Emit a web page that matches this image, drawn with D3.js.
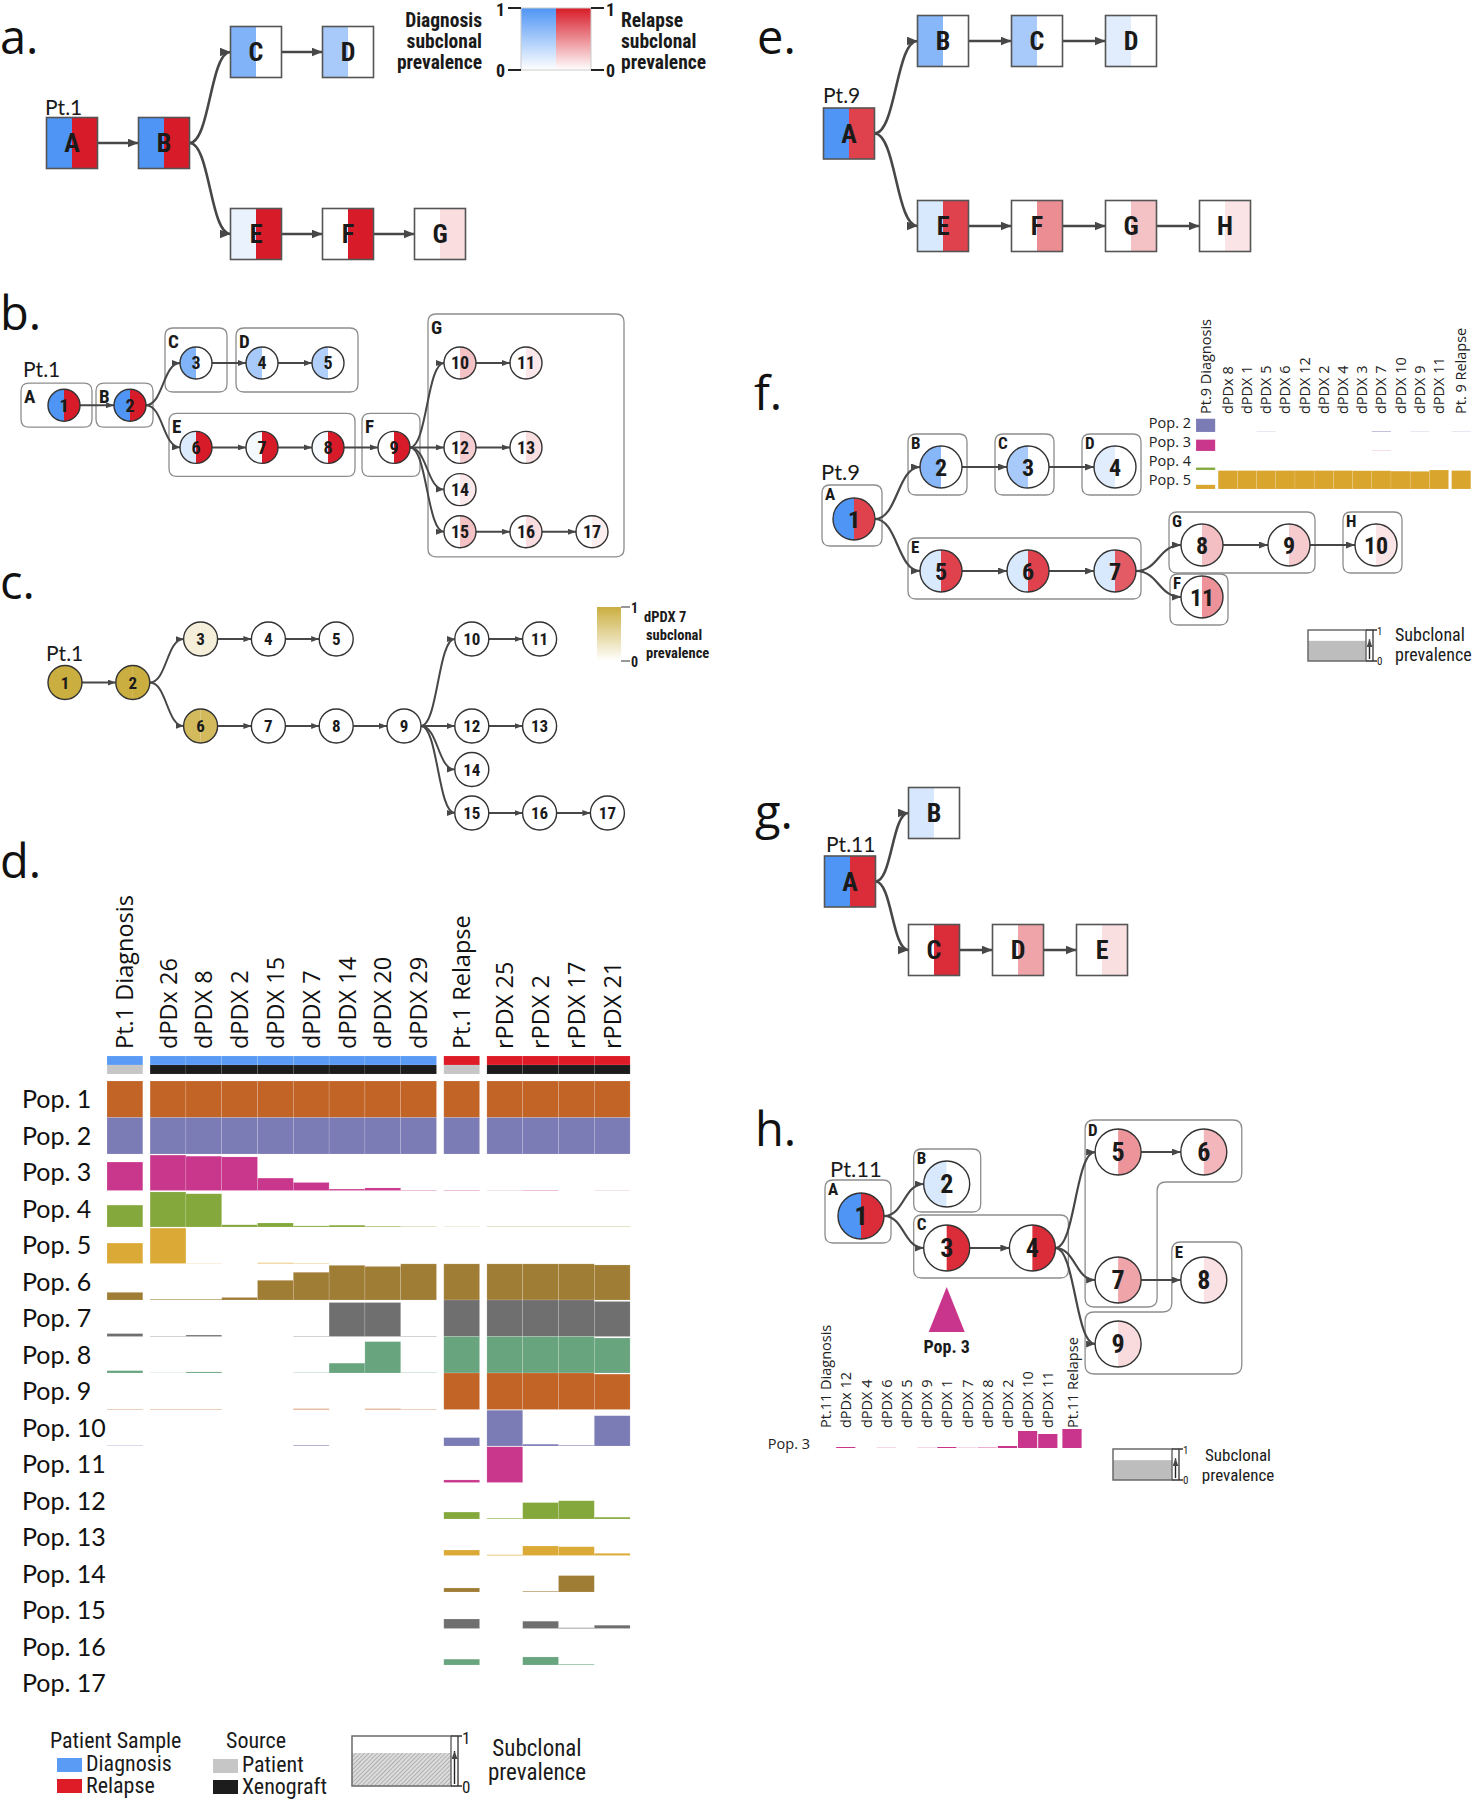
<!DOCTYPE html>
<html><head><meta charset="utf-8">
<script src="https://cdn.jsdelivr.net/npm/d3@7"></script>
<style>
body{margin:0;background:#fff;}
svg{display:block;}
</style></head><body>
<script>
// ---------------- DATA ----------------
// Panel a : Pt.1 clone tree (dx = diagnosis prevalence, rl = relapse prevalence)
const aNodes = [
  {id:"A",col:0,row:1,dx:1,rl:1},{id:"B",col:1,row:1,dx:1,rl:1},
  {id:"C",col:2,row:0,dx:0.72,rl:0},{id:"D",col:3,row:0,dx:0.5,rl:0},
  {id:"E",col:2,row:2,dx:0.12,rl:1},{id:"F",col:3,row:2,dx:0,rl:1},{id:"G",col:4,row:2,dx:0,rl:0.15}];
const aEdges = [["A","B"],["B","C"],["C","D"],["B","E"],["E","F"],["F","G"]];

// Panel b : Pt.1 population tree
const bNodes = [
  {id:"1",col:0,row:1,dx:1,rl:1},{id:"2",col:1,row:1,dx:1,rl:1},
  {id:"3",col:2,row:0,dx:0.72,rl:0},{id:"4",col:3,row:0,dx:0.5,rl:0},{id:"5",col:4,row:0,dx:0.45,rl:0},
  {id:"6",col:2,row:2,dx:0.2,rl:1},{id:"7",col:3,row:2,dx:0.06,rl:1},{id:"8",col:4,row:2,dx:0.05,rl:1},
  {id:"9",col:5,row:2,dx:0,rl:1},
  {id:"10",col:6,row:0,dx:0,rl:0.27},{id:"11",col:7,row:0,dx:0,rl:0.1},
  {id:"12",col:6,row:2,dx:0,rl:0.22},{id:"13",col:7,row:2,dx:0,rl:0.14},
  {id:"14",col:6,row:3,dx:0,rl:0.1},
  {id:"15",col:6,row:4,dx:0,rl:0.27},{id:"16",col:7,row:4,dx:0,rl:0.15},{id:"17",col:8,row:4,dx:0,rl:0.08}];
const bEdges = [["1","2"],["2","3"],["3","4"],["4","5"],["2","6"],["6","7"],["7","8"],["8","9"],
  ["9","10"],["10","11"],["9","12"],["12","13"],["9","14"],["9","15"],["15","16"],["16","17"]];
const bGroups = [
  {label:"A",members:["1"]},{label:"B",members:["2"]},{label:"C",members:["3"]},
  {label:"D",members:["4","5"]},{label:"E",members:["6","7","8"]},{label:"F",members:["9"]},
  {label:"G",members:["10","11","12","13","14","15","16","17"]}];

// Panel c : dPDX 7 prevalence on the Pt.1 tree
const cPrev = {"1":1,"2":1,"3":0.2,"4":0,"5":0,"6":0.85,"7":0,"8":0,"9":0,"10":0,"11":0,"12":0,"13":0,"14":0,"15":0,"16":0,"17":0};

// Panel d : Pt.1 subclonal prevalence per sample
const dColumns = ["Pt.1 Diagnosis","dPDx 26","dPDX 8","dPDX 2","dPDX 15","dPDX 7","dPDX 14","dPDX 20","dPDX 29",
  "Pt.1 Relapse","rPDX 25","rPDX 2","rPDX 17","rPDX 21"];
const dSample = ["Diagnosis","Diagnosis","Diagnosis","Diagnosis","Diagnosis","Diagnosis","Diagnosis","Diagnosis","Diagnosis",
  "Relapse","Relapse","Relapse","Relapse","Relapse"];
const dSource = ["Patient","Xenograft","Xenograft","Xenograft","Xenograft","Xenograft","Xenograft","Xenograft","Xenograft",
  "Patient","Xenograft","Xenograft","Xenograft","Xenograft"];
const dGroup = [0,1,1,1,1,1,1,1,1,2,3,3,3,3];
const dPops = ["Pop. 1","Pop. 2","Pop. 3","Pop. 4","Pop. 5","Pop. 6","Pop. 7","Pop. 8","Pop. 9",
  "Pop. 10","Pop. 11","Pop. 12","Pop. 13","Pop. 14","Pop. 15","Pop. 16","Pop. 17"];
const dValues = [
  [1,1,1,1,1,1,1,1,1,1,1,1,1,1],
  [1,1,1,1,1,1,1,1,1,1,1,1,1,1],
  [0.78,0.97,0.94,0.92,0.34,0.22,0.04,0.07,0.01,0.01,0.005,0.01,0,0.005],
  [0.6,0.96,0.91,0.06,0.11,0.03,0.05,0.02,0.01,0.005,0.01,0.01,0.01,0.01],
  [0.56,0.97,0.005,0,0.02,0.01,0,0,0,0,0,0,0,0],
  [0.21,0.02,0.02,0.07,0.54,0.76,0.95,0.92,0.99,0.99,0.99,0.99,0.99,0.96],
  [0.08,0.01,0.04,0,0,0.01,0.93,0.93,0.01,1,1,1,1,0.96],
  [0.065,0.005,0.03,0,0,0.01,0.27,0.86,0.01,1,1,1,1,0.96],
  [0.01,0.01,0.01,0,0,0.02,0,0.02,0.01,1,1,1,1,0.97],
  [0.01,0,0,0,0,0.02,0,0,0,0.23,0.98,0.05,0.02,0.83],
  [0,0,0,0,0,0,0,0,0,0.07,0.98,0,0,0],
  [0,0,0,0,0,0,0,0,0,0.19,0.02,0.45,0.5,0.05],
  [0,0,0,0,0,0,0,0,0,0.15,0.02,0.26,0.24,0.06],
  [0,0,0,0,0,0,0,0,0,0.11,0,0.02,0.45,0],
  [0,0,0,0,0,0,0,0,0,0.26,0,0.2,0.02,0.09],
  [0,0,0,0,0,0,0,0,0,0.16,0,0.22,0.02,0],
  [0,0,0,0,0,0,0,0,0,0,0,0,0,0]];
const popColors = ["#c26426","#7b7bb5","#c9378d","#84a83b","#dba935","#a07d35","#6f6f6f","#68a57f"];

// Panel e : Pt.9 clone tree
const eNodes = [
  {id:"A",col:0,row:1,dx:1,rl:0.83},
  {id:"B",col:1,row:0,dx:0.68,rl:0},{id:"C",col:2,row:0,dx:0.5,rl:0},{id:"D",col:3,row:0,dx:0.17,rl:0},
  {id:"E",col:1,row:2,dx:0.22,rl:0.83},{id:"F",col:2,row:2,dx:0,rl:0.5},{id:"G",col:3,row:2,dx:0,rl:0.27},{id:"H",col:4,row:2,dx:0,rl:0.12}];
const eEdges = [["A","B"],["B","C"],["C","D"],["A","E"],["E","F"],["F","G"],["G","H"]];

// Panel f : Pt.9 population tree + inset
const fNodes = [
  {id:"1",col:0,row:2,dx:1,rl:0.83},
  {id:"2",col:1,row:0,dx:0.68,rl:0},{id:"3",col:2,row:0,dx:0.5,rl:0},{id:"4",col:3,row:0,dx:0.17,rl:0},
  {id:"5",col:1,row:4,dx:0.22,rl:0.83},{id:"6",col:2,row:4,dx:0.22,rl:0.83},{id:"7",col:3,row:4,dx:0.22,rl:0.72},
  {id:"8",col:4,row:3,dx:0,rl:0.28},{id:"9",col:5,row:3,dx:0,rl:0.23},{id:"10",col:6,row:3,dx:0,rl:0.12},
  {id:"11",col:4,row:5,dx:0,rl:0.48}];
const fEdges = [["1","2"],["2","3"],["3","4"],["1","5"],["5","6"],["6","7"],["7","8"],["8","9"],["9","10"],["7","11"]];
const fGroups = [
  {label:"A",members:["1"]},{label:"B",members:["2"]},{label:"C",members:["3"]},{label:"D",members:["4"]},
  {label:"E",members:["5","6","7"]},{label:"G",members:["8","9"]},{label:"H",members:["10"]},{label:"F",members:["11"]}];
const fColumns = ["Pt.9 Diagnosis","dPDx 8","dPDX 1","dPDX 5","dPDX 6","dPDX 12","dPDX 2","dPDX 4","dPDX 3",
  "dPDX 7","dPDX 10","dPDX 9","dPDX 11","Pt. 9 Relapse"];
const fGroup = [0,1,1,1,1,1,1,1,1,1,1,1,1,2];
const fPops = ["Pop. 2","Pop. 3","Pop. 4","Pop. 5"];
const fValues = [
  [0.7,0,0,0.01,0,0,0,0,0,0.03,0,0.01,0,0.01],
  [0.6,0,0,0,0,0,0,0,0,0.01,0,0,0,0],
  [0.13,0,0,0,0,0,0,0,0,0,0,0,0,0],
  [0.22,0.97,0.97,0.97,0.97,0.97,0.97,0.97,0.96,0.96,0.94,0.93,1.0,0.97]];
const fColors = ["#7b7bb5","#c9378d","#84a83b","#d9a52c"];

// Panel g : Pt.11 clone tree
const gNodes = [
  {id:"A",col:0,row:1,dx:1,rl:0.92},{id:"B",col:1,row:0,dx:0.23,rl:0},
  {id:"C",col:1,row:2,dx:0,rl:0.92},{id:"D",col:2,row:2,dx:0,rl:0.4},{id:"E",col:3,row:2,dx:0,rl:0.14}];
const gEdges = [["A","B"],["A","C"],["C","D"],["D","E"]];

// Panel h : Pt.11 population tree + inset
const hNodes = [
  {id:"1",col:0,row:2,dx:1,rl:0.92},{id:"2",col:1,row:1,dx:0.22,rl:0},
  {id:"3",col:1,row:3,dx:0,rl:0.92},{id:"4",col:2,row:3,dx:0,rl:0.92},
  {id:"5",col:3,row:0,dx:0,rl:0.47},{id:"6",col:4,row:0,dx:0,rl:0.32},
  {id:"7",col:3,row:4,dx:0,rl:0.4},{id:"8",col:4,row:4,dx:0,rl:0.13},{id:"9",col:3,row:6,dx:0,rl:0.16}];
const hEdges = [["1","2"],["1","3"],["3","4"],["4","5"],["5","6"],["4","7"],["7","8"],["4","9"]];
const hGroups = [{label:"A",members:["1"]},{label:"B",members:["2"]},{label:"C",members:["3","4"]}];
const hColumns = ["Pt.11 Diagnosis","dPDx 12","dPDX 4","dPDX 6","dPDX 5","dPDX 9","dPDX 1","dPDX 7","dPDX 8",
  "dPDX 2","dPDX 10","dPDX 11","Pt.11 Relapse"];
const hGroup = [0,1,1,1,1,1,1,1,1,1,1,1,2];
const hPop3 = [0,0.05,0,0.01,0,0.01,0.05,0.01,0.02,0.1,0.85,0.7,0.95];

// ---------------- DRAWING ----------------
const W=1473,H=1800;
const BLUE="#4f95f5", RED="#d81b28", GOLD="#cbae40";
const blueS=d3.scaleLinear().domain([0,1]).range(["#ffffff",BLUE]);
const redS=d3.scaleLinear().domain([0,1]).range(["#ffffff",RED]);
const goldS=d3.scaleLinear().domain([0,1]).range(["#ffffff",GOLD]);
const NARROW="'Liberation Sans Narrow','Arial Narrow','Roboto Condensed','DejaVu Sans Condensed',sans-serif";
const LINE="#474747";

const svg=d3.select("body").append("svg").attr("width",W).attr("height",H)
  .attr("font-family","'Open Sans',sans-serif");
const defs=svg.append("defs");

function marker(id,len,wid){
  defs.append("marker").attr("id",id).attr("viewBox",`0 ${-wid/2} ${len} ${wid}`)
    .attr("refX",len).attr("refY",0).attr("markerWidth",len).attr("markerHeight",wid)
    .attr("markerUnits","userSpaceOnUse").attr("orient","auto")
    .append("path").attr("d",`M0,${-wid/2}L${len},0L0,${wid/2}Z`).attr("fill",LINE);
}
marker("arrL",11,9); marker("arrM",9,7); marker("arrS",8,6);

function grad(id,top){
  const g=defs.append("linearGradient").attr("id",id).attr("x1",0).attr("y1",0).attr("x2",0).attr("y2",1);
  g.append("stop").attr("offset","0%").attr("stop-color",top);
  g.append("stop").attr("offset","100%").attr("stop-color","#ffffff");
}
grad("gBlue",BLUE); grad("gRed",RED); grad("gGold",GOLD);

const pat=defs.append("pattern").attr("id","hatch").attr("patternUnits","userSpaceOnUse")
  .attr("width",3).attr("height",3).attr("patternTransform","rotate(45)");
pat.append("rect").attr("width",3).attr("height",3).attr("fill","#dcdcdc");
pat.append("line").attr("x1",0).attr("y1",0).attr("x2",0).attr("y2",3).attr("stroke","#8c8c8c").attr("stroke-width",1.1);

function roundedPoly(pts,r){
  let d="";const n=pts.length;
  for(let i=0;i<n;i++){
    const p0=pts[(i-1+n)%n],p1=pts[i],p2=pts[(i+1)%n];
    const v1=[p0[0]-p1[0],p0[1]-p1[1]],v2=[p2[0]-p1[0],p2[1]-p1[1]];
    const l1=Math.hypot(v1[0],v1[1]),l2=Math.hypot(v2[0],v2[1]);
    const rr=Math.min(r,l1/2,l2/2);
    const a=[p1[0]+v1[0]/l1*rr,p1[1]+v1[1]/l1*rr],b=[p1[0]+v2[0]/l2*rr,p1[1]+v2[1]/l2*rr];
    d+=(i===0?"M":"L")+a[0]+","+a[1]+"Q"+p1[0]+","+p1[1]+" "+b[0]+","+b[1];
  }
  return d+"Z";
}

function text(g,x,y,str,opt={}){
  const t=g.append("text").attr("x",x).attr("y",y).text(str)
    .attr("font-size",opt.fs||16).attr("fill",opt.fill||"#1a1a1a");
  if(opt.ff) t.attr("font-family",opt.ff);
  if(opt.fw) t.attr("font-weight",opt.fw);
  if(opt.anchor) t.attr("text-anchor",opt.anchor);
  if(opt.rot) t.attr("transform",`rotate(${opt.rot},${x},${y})`);
  return t;
}

function drawEdges(g,nodes,edges,sx,sy,half,mk,sw){
  const by=new Map(nodes.map(n=>[n.id,n]));
  const link=d3.linkHorizontal();
  edges.forEach(([s,t])=>{
    const a=by.get(s),b=by.get(t);
    const x1=sx(a.col)+half,y1=sy(a.row),x2=sx(b.col)-half,y2=sy(b.row);
    const d=Math.abs(y1-y2)<0.5?`M${x1},${y1}L${x2},${y2}`:link({source:[x1,y1],target:[x2,y2]});
    g.append("path").attr("d",d).attr("fill","none").attr("stroke",LINE).attr("stroke-width",sw)
      .attr("marker-end",`url(#${mk})`);
  });
}

function drawBoxNodes(g,nodes,sx,sy,s,fs){
  const n=g.selectAll(null).data(nodes).join("g").attr("transform",d=>`translate(${sx(d.col)},${sy(d.row)})`);
  n.append("rect").attr("x",-s/2).attr("y",-s/2).attr("width",s/2).attr("height",s).attr("fill",d=>blueS(d.dx));
  n.append("rect").attr("x",0).attr("y",-s/2).attr("width",s/2).attr("height",s).attr("fill",d=>redS(d.rl));
  n.append("rect").attr("x",-s/2).attr("y",-s/2).attr("width",s).attr("height",s).attr("fill","none")
    .attr("stroke","#555").attr("stroke-width",1.6);
  n.append("text").attr("text-anchor","middle").attr("dy","0.36em").attr("font-size",fs)
    .attr("font-weight","bold").attr("font-family",NARROW).attr("fill","#1a1a1a").text(d=>d.id);
}

function drawCircleNodes(g,nodes,sx,sy,r,fs,fillL,fillR){
  const aL=d3.arc().innerRadius(0).outerRadius(r).startAngle(Math.PI).endAngle(2*Math.PI);
  const aR=d3.arc().innerRadius(0).outerRadius(r).startAngle(0).endAngle(Math.PI);
  const n=g.selectAll(null).data(nodes).join("g").attr("transform",d=>`translate(${sx(d.col)},${sy(d.row)})`);
  n.append("path").attr("d",aL()).attr("fill",fillL);
  n.append("path").attr("d",aR()).attr("fill",fillR);
  n.append("circle").attr("r",r).attr("fill","none").attr("stroke","#333").attr("stroke-width",1.4);
  n.append("text").attr("text-anchor","middle").attr("dy","0.36em").attr("font-size",fs)
    .attr("font-weight","bold").attr("font-family",NARROW).attr("fill","#1a1a1a").text(d=>d.id);
}

function drawGroups(g,groups,nodes,sx,sy,r,pad,fs,labDy,padOver={}){
  const by=new Map(nodes.map(n=>[n.id,n]));
  groups.forEach(gr=>{
    const ms=gr.members.map(id=>by.get(id));
    const p=padOver[gr.label]||pad;
    const x0=d3.min(ms,m=>sx(m.col))-r-p[3],x1=d3.max(ms,m=>sx(m.col))+r+p[1];
    const y0=d3.min(ms,m=>sy(m.row))-r-p[0],y1=d3.max(ms,m=>sy(m.row))+r+p[2];
    g.append("path").attr("d",roundedPoly([[x0,y0],[x1,y0],[x1,y1],[x0,y1]],8))
      .attr("fill","none").attr("stroke","#8d8d8d").attr("stroke-width",1.3);
    text(g,x0+3,y0+labDy,gr.label,{fs:fs,fw:"bold",ff:NARROW});
  });
}

function prevLegend(g,x,y,w,h,frac,fill,fs,tfs,tx,ty,lh,tAnchor){
  g.append("rect").attr("x",x).attr("y",y+h*(1-frac)).attr("width",w).attr("height",h*frac).attr("fill",fill);
  g.append("rect").attr("x",x).attr("y",y).attr("width",w).attr("height",h).attr("fill","none")
    .attr("stroke","#6a6a6a").attr("stroke-width",1.5);
  const bx=x+w+7;
  g.append("path").attr("d",`M${x+w},${y}H${bx+4}M${bx},${y}V${y+h}M${x+w},${y+h}H${bx+4}`)
    .attr("fill","none").attr("stroke","#333").attr("stroke-width",1.3);
  g.append("path").attr("d",`M${x+w+3.5},${y+h-2}V${y+h*0.3}`).attr("stroke","#222").attr("stroke-width",1.4)
    .attr("marker-end","url(#arrS)");
  text(g,bx+4,y+tfs*0.45,"1",{fs:tfs,ff:NARROW});
  text(g,bx+4,y+h+tfs*0.4,"0",{fs:tfs,ff:NARROW});
  text(g,tx,ty,"Subclonal",{fs:fs,ff:NARROW,anchor:tAnchor});
  text(g,tx,ty+lh,"prevalence",{fs:fs,ff:NARROW,anchor:tAnchor});
}

// Panel letters
[["a.",0,54],["b.",0,330],["c.",0,599],["d.",0,878],["e.",757,54],["f.",754,410],["g.",755,829],["h.",755,1146]]
  .forEach(([s,x,y])=>text(svg,x,y,s,{fs:47,ff:"'Open Sans',sans-serif",fill:"#111"}));

const PTF="Lato,'Open Sans',sans-serif";

// ---- Panel a ----
{
  const g=svg.append("g");
  const sx=d3.scaleLinear().domain([0,1]).range([72,164]);
  const sy=d3.scaleLinear().domain([0,1]).range([52,143]);
  drawEdges(g,aNodes,aEdges,sx,sy,25.5,"arrL",2.6);
  drawBoxNodes(g,aNodes,sx,sy,51,26);
  text(g,45,115,"Pt.1",{fs:21,ff:PTF});
  // legend
  g.append("rect").attr("x",521).attr("y",8).attr("width",35).attr("height",62).attr("fill","url(#gBlue)");
  g.append("rect").attr("x",556).attr("y",8).attr("width",35).attr("height",62).attr("fill","url(#gRed)");
  g.append("rect").attr("x",521).attr("y",8).attr("width",70).attr("height",62).attr("fill","none").attr("stroke","#ccc").attr("stroke-width",1);
  g.append("path").attr("d","M508,8H521M508,70H521M591,8H604M591,70H604").attr("stroke","#222").attr("stroke-width",2);
  text(g,496,16,"1",{fs:18,fw:"bold",ff:NARROW});
  text(g,496,77,"0",{fs:18,fw:"bold",ff:NARROW});
  text(g,606,16,"1",{fs:18,fw:"bold",ff:NARROW});
  text(g,606,77,"0",{fs:18,fw:"bold",ff:NARROW});
  ["Diagnosis","subclonal","prevalence"].forEach((s,i)=>text(g,482,27+i*21,s,{fs:19.5,fw:"bold",ff:NARROW,anchor:"end"}));
  ["Relapse","subclonal","prevalence"].forEach((s,i)=>text(g,621,27+i*21,s,{fs:19.5,fw:"bold",ff:NARROW}));
}

// ---- Panel b ----
{
  const g=svg.append("g");
  const sx=d3.scaleLinear().domain([0,1]).range([64,130]);
  const sy=d3.scaleLinear().domain([0,1]).range([363,405.2]);
  drawGroups(g,bGroups,bNodes,sx,sy,16,[19,15,13,15],19,20,
    {A:[6,12,6,27],B:[6,7,6,18],D:[19,14,13,10],E:[18,11,13,11],F:[18,10,13,16],G:[33,16,9,16]});
  drawEdges(g,bNodes,bEdges,sx,sy,16,"arrS",2);
  drawCircleNodes(g,bNodes,sx,sy,16,18,d=>blueS(d.dx),d=>redS(d.rl));
  text(g,23,377,"Pt.1",{fs:21,ff:PTF});
}

// ---- Panel c ----
{
  const g=svg.append("g");
  const sx=d3.scaleLinear().domain([0,1]).range([65,132.8]);
  const sy=d3.scaleLinear().domain([0,1]).range([639,682.5]);
  drawEdges(g,bNodes,bEdges,sx,sy,17,"arrS",2);
  drawCircleNodes(g,bNodes,sx,sy,17,17,d=>goldS(cPrev[d.id]),d=>goldS(cPrev[d.id]));
  text(g,46,661,"Pt.1",{fs:21,ff:PTF});
  g.append("rect").attr("x",597).attr("y",607).attr("width",24).attr("height",54).attr("fill","url(#gGold)");
  g.append("path").attr("d","M621,607H630M621,661H630").attr("stroke","#333").attr("stroke-width",1.2);
  text(g,631,613,"1",{fs:14,fw:"bold",ff:NARROW});
  text(g,631,667,"0",{fs:14,fw:"bold",ff:NARROW});
  ["dPDX 7","subclonal","prevalence"].forEach((s,i)=>text(g,i===0?644:646,622+i*18,s,{fs:14.5,fw:"bold",ff:NARROW}));
}

// ---- Panel d ----
{
  const g=svg.append("g");
  const colW=35.8, gap=7.3, x0=107;
  const xb=d3.scaleBand().domain(dColumns).range([x0,x0+colW*dColumns.length]);
  const X=i=>xb(dColumns[i])+dGroup[i]*gap;
  const rowH=36.5;
  const yb=d3.scaleBand().domain(dPops).range([1081,1081+rowH*dPops.length]);
  const hS=d3.scaleLinear().domain([0,1]).range([0,yb.bandwidth()]);
  const sampleC=d3.scaleOrdinal().domain(["Diagnosis","Relapse"]).range(["#5a9cf5","#dd1c28"]);
  const sourceC=d3.scaleOrdinal().domain(["Patient","Xenograft"]).range(["#c6c6c6","#1c1c1c"]);
  dColumns.forEach((c,i)=>{
    text(g,X(i)+colW/2+8.5,1049,c,{fs:23.5,rot:-90,fill:"#111"});
    g.append("rect").attr("x",X(i)).attr("y",1056).attr("width",colW).attr("height",9).attr("fill",sampleC(dSample[i]))
      .attr("stroke","rgba(255,255,255,0.15)").attr("stroke-width",0.6);
    g.append("rect").attr("x",X(i)).attr("y",1065).attr("width",colW).attr("height",9).attr("fill",sourceC(dSource[i]))
      .attr("stroke","rgba(255,255,255,0.12)").attr("stroke-width",0.6);
  });
  dPops.forEach((p,pi)=>{
    text(g,22,yb(p)+yb.bandwidth()/2+9,p,{fs:25,ff:PTF,fill:"#111"});
    dValues[pi].forEach((v,i)=>{
      if(v<=0) return;
      const h=hS(v);
      g.append("rect").attr("x",X(i)).attr("y",yb(p)+yb.bandwidth()-h).attr("width",colW).attr("height",h)
        .attr("fill",popColors[pi%8]).attr("stroke","rgba(255,255,255,0.25)").attr("stroke-width",0.6);
    });
  });
  // legend
  text(g,50,1748,"Patient Sample",{fs:22,ff:NARROW});
  g.append("rect").attr("x",57).attr("y",1758).attr("width",25).attr("height",14).attr("fill","#5a9cf5");
  text(g,86,1771,"Diagnosis",{fs:22,ff:NARROW});
  g.append("rect").attr("x",57).attr("y",1779).attr("width",25).attr("height",14).attr("fill","#dd1c28");
  text(g,86,1793,"Relapse",{fs:22,ff:NARROW});
  text(g,226,1748,"Source",{fs:22,ff:NARROW});
  g.append("rect").attr("x",213).attr("y",1759).attr("width",25).attr("height",14).attr("fill","#c6c6c6");
  text(g,242,1772,"Patient",{fs:22,ff:NARROW});
  g.append("rect").attr("x",213).attr("y",1780).attr("width",25).attr("height",14).attr("fill","#1c1c1c");
  text(g,242,1794,"Xenograft",{fs:22,ff:NARROW});
  prevLegend(g,352,1736,99,50,0.66,"url(#hatch)",23,17,537,1756,24,"middle");
}

// ---- Panel e ----
{
  const g=svg.append("g");
  const sx=d3.scaleLinear().domain([0,1]).range([849,943]);
  const sy=d3.scaleLinear().domain([0,1]).range([41,133.5]);
  drawEdges(g,eNodes,eEdges,sx,sy,25.5,"arrL",2.6);
  drawBoxNodes(g,eNodes,sx,sy,51,26);
  text(g,823,103,"Pt.9",{fs:21,ff:PTF});
}

// ---- Panel f ----
{
  const g=svg.append("g");
  const sx=d3.scaleLinear().domain([0,1]).range([854,941]);
  const sy=d3.scaleLinear().domain([0,1]).range([467,493]);
  drawGroups(g,fGroups,fNodes,sx,sy,21,[12,5,7,12],17,15,{A:[13,7,6,11],F:[2,5,7,11]});
  drawEdges(g,fNodes,fEdges,sx,sy,21,"arrM",2.2);
  drawCircleNodes(g,fNodes,sx,sy,21,24,d=>blueS(d.dx),d=>redS(d.rl));
  text(g,821,480,"Pt.9",{fs:22,ff:PTF});
  // inset
  const colW=19.2, x0=1196;
  const xb=d3.scaleBand().domain(fColumns).range([x0,x0+colW*fColumns.length]);
  const X=i=>xb(fColumns[i])+fGroup[i]*3;
  const yb=d3.scaleBand().domain(fPops).range([413,413+19*fPops.length]);
  const hS=d3.scaleLinear().domain([0,1]).range([0,yb.bandwidth()]);
  fColumns.forEach((c,i)=>text(g,X(i)+colW/2+5,414,c,{fs:14.5,rot:-90,fill:"#222"}));
  fPops.forEach((p,pi)=>{
    text(g,1191,yb(p)+yb.bandwidth()/2+5,p,{fs:14.5,anchor:"end",fill:"#222"});
    fValues[pi].forEach((v,i)=>{
      if(v<=0) return;
      const h=hS(v);
      g.append("rect").attr("x",X(i)).attr("y",yb(p)+yb.bandwidth()-h).attr("width",colW).attr("height",h)
        .attr("fill",fColors[pi]).attr("stroke","rgba(255,255,255,0.25)").attr("stroke-width",0.5);
    });
  });
  prevLegend(g,1308,630,58,31,0.65,"#bdbdbd",18,11,1395,641,20,"start");
}

// ---- Panel g ----
{
  const g=svg.append("g");
  const sx=d3.scaleLinear().domain([0,1]).range([850,934]);
  const sy=d3.scaleLinear().domain([0,1]).range([813,881.5]);
  drawEdges(g,gNodes,gEdges,sx,sy,25.5,"arrL",2.6);
  drawBoxNodes(g,gNodes,sx,sy,51,26);
  text(g,826,852,"Pt.11",{fs:21,ff:PTF});
}

// ---- Panel h ----
{
  const g=svg.append("g");
  const r=23;
  const sx=d3.scaleLinear().domain([0,1]).range([861,946.7]);
  const sy=d3.scaleLinear().domain([0,1]).range([1152,1184]);
  drawGroups(g,hGroups,hNodes,sx,sy,r,[12,11,5,10],17,15,{A:[13,7,4,13],C:[10,13,7,10]});
  const by=new Map(hNodes.map(n=>[n.id,n]));
  const P=id=>[sx(by.get(id).col),sy(by.get(id).row)];
  const [n5,n6,n7,n8,n9]=["5","6","7","8","9"].map(P);
  const dPts=[[n5[0]-r-10,n5[1]-r-9],[n6[0]+r+15,n5[1]-r-9],[n6[0]+r+15,n6[1]+r+7],[n7[0]+r+16,n6[1]+r+7],
    [n7[0]+r+16,n7[1]+r+4],[n5[0]-r-10,n7[1]+r+4]];
  const ePts=[[n8[0]-r-9,n8[1]-r-15],[n8[0]+r+15,n8[1]-r-15],[n8[0]+r+15,n9[1]+r+7],[n9[0]-r-10,n9[1]+r+7],
    [n9[0]-r-10,n9[1]-r-9],[n8[0]-r-9,n9[1]-r-9]];
  [dPts,ePts].forEach(pts=>g.append("path").attr("d",roundedPoly(pts,9)).attr("fill","none")
    .attr("stroke","#8d8d8d").attr("stroke-width",1.3));
  text(g,dPts[0][0]+3,dPts[0][1]+16,"D",{fs:17,fw:"bold",ff:NARROW});
  text(g,ePts[0][0]+3,ePts[0][1]+16,"E",{fs:17,fw:"bold",ff:NARROW});
  drawEdges(g,hNodes,hEdges,sx,sy,r,"arrM",2.2);
  drawCircleNodes(g,hNodes,sx,sy,r,26,d=>blueS(d.dx),d=>redS(d.rl));
  text(g,830,1177,"Pt.11",{fs:22,ff:PTF});
  // Pop. 3 marker
  const tx=sx(1);
  g.append("path").attr("d",`M${tx},1287L${tx-18},1332L${tx+18},1332Z`).attr("fill","#c9348c");
  text(g,tx,1353,"Pop. 3",{fs:18,fw:"bold",ff:NARROW,anchor:"middle"});
  // inset
  const colW=20.2, x0=816;
  const xb=d3.scaleBand().domain(hColumns).range([x0,x0+colW*hColumns.length]);
  const X=i=>xb(hColumns[i])+(hGroup[i]===2?4:0);
  const hS=d3.scaleLinear().domain([0,1]).range([0,20]);
  hColumns.forEach((c,i)=>text(g,X(i)+colW/2+5,1428,c,{fs:14.5,rot:-90,fill:"#222"}));
  text(g,810,1449,"Pop. 3",{fs:14.5,anchor:"end",fill:"#222"});
  hPop3.forEach((v,i)=>{
    if(v<=0) return;
    const h=hS(v);
    g.append("rect").attr("x",X(i)).attr("y",1448-h).attr("width",colW-1).attr("height",h).attr("fill","#c9348c");
  });
  prevLegend(g,1113,1449,59,31,0.64,"#bdbdbd",17,11,1238,1461,20,"middle");
}
</script></body></html>
